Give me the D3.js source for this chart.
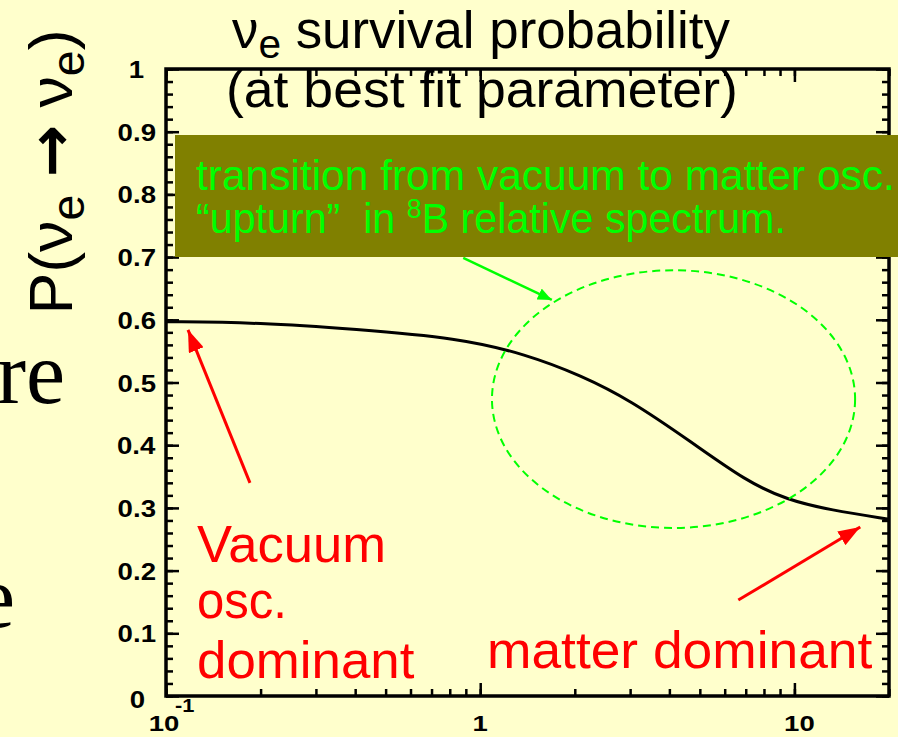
<!DOCTYPE html>
<html>
<head>
<meta charset="utf-8">
<script src="https://cdn.jsdelivr.net/npm/d3@7.9.0/dist/d3.min.js"></script>
<style>
  body { margin: 0; background: #ffffcc; }
  svg { display: block; }
  text { font-family: "Liberation Sans", Arial, sans-serif; }
</style>
</head>
<body>
<svg width="898" height="737"></svg>
<script>
// neutrino energy (MeV) and survival probability
const energy = [0.1, 0.2, 0.4, 0.85, 1.4, 2.1, 3, 4.7, 7, 9.5, 13, 20];
const survival = [0.597, 0.5955, 0.585, 0.571, 0.545, 0.511, 0.472, 0.405, 0.343, 0.3125, 0.2966, 0.282];

const yTickValues = [0, 0.1, 0.2, 0.3, 0.4, 0.5, 0.6, 0.7, 0.8, 0.9, 1];
const yTickLabels = ['0', '0.1', '0.2', '0.3', '0.4', '0.5', '0.6', '0.7', '0.8', '0.9', '1'];
const xTickValues = [0.1, 1, 10];
const xTickLabels = ['10', '1', '10'];

// annotations, in data units
const ellipseE = [1.09, 15.6];
const ellipseP = [0.268, 0.679];
const redArrows = [
  { from: [0.185, 0.34], to: [0.1175, 0.584] },
  { from: [6.63, 0.153], to: [16.2, 0.2695] }
];
const greenArrow = { from: [0.883, 0.6986], to: [1.69, 0.6316] };

const svg = d3.select('svg');
const x = d3.scaleLog().domain([0.1, 20]).range([166, 889]);
const y = d3.scaleLinear().domain([0, 1]).range([696, 69]);

svg.append('rect').attr('width', 898).attr('height', 737).attr('fill', '#ffffcc');

// place a text so that it spans a given width
function fit(sel, tx, ty, w, anchor) {
  const bb = sel.node().getBBox();
  const s = w / bb.width;
  let dx = 0;
  if (anchor === 'end') dx = -w;
  if (anchor === 'middle') dx = -w / 2;
  sel.attr('x', -bb.x).attr('transform', `translate(${tx + dx},${ty}) scale(${s},1)`);
  return sel;
}

// markers
const defs = svg.append('defs');
[['redHead', '#ff0000', 22, 16], ['greenHead', '#00ff00', 14, 12]].forEach(([id, c, len, wid]) => {
  defs.append('marker')
    .attr('id', id)
    .attr('markerUnits', 'userSpaceOnUse')
    .attr('markerWidth', len).attr('markerHeight', wid)
    .attr('viewBox', `0 0 ${len} ${wid}`)
    .attr('refX', len).attr('refY', wid / 2)
    .attr('orient', 'auto')
    .append('path')
    .attr('d', `M0,0L${len},${wid / 2}L0,${wid}Z`)
    .attr('fill', c);
});

// ticks on all four sides, pointing inward
const minorX = x.ticks();
const minorY = y.ticks(50);
function ticks(axis, tr) {
  svg.append('g').attr('transform', tr)
    .call(axis)
    .call(g => g.select('.domain').remove())
    .call(g => g.selectAll('line').attr('stroke', '#000').attr('stroke-width', 2.5));
}
ticks(d3.axisBottom(x).tickValues(minorX).tickSize(-7).tickFormat(''), `translate(0,${y(0)})`);
ticks(d3.axisBottom(x).tickValues(xTickValues).tickSize(-13).tickFormat(''), `translate(0,${y(0)})`);
ticks(d3.axisTop(x).tickValues(minorX).tickSize(-7).tickFormat(''), `translate(0,${y(1)})`);
ticks(d3.axisTop(x).tickValues(xTickValues).tickSize(-13).tickFormat(''), `translate(0,${y(1)})`);
ticks(d3.axisLeft(y).tickValues(minorY).tickSize(-7).tickFormat(''), `translate(${x(0.1)},0)`);
ticks(d3.axisLeft(y).tickValues(yTickValues).tickSize(-13).tickFormat(''), `translate(${x(0.1)},0)`);
ticks(d3.axisRight(y).tickValues(minorY).tickSize(-7).tickFormat(''), `translate(${x(20)},0)`);
ticks(d3.axisRight(y).tickValues(yTickValues).tickSize(-13).tickFormat(''), `translate(${x(20)},0)`);

svg.append('rect')
  .attr('x', x(0.1)).attr('y', y(1))
  .attr('width', x(20) - x(0.1)).attr('height', y(0) - y(1))
  .attr('fill', 'none').attr('stroke', '#000').attr('stroke-width', 3.5);

// tick labels
yTickValues.forEach((v, i) => {
  const t = svg.append('text').attr('font-weight', 'bold').attr('font-size', 24).text(yTickLabels[i]);
  let right = 156, yy = y(v) + 9;
  if (i === 0) { right = 145; yy = y(v) + 12; }
  if (i === yTickValues.length - 1) { right = 144; yy = y(v) + 9; }
  fit(t, right, yy, t.node().getBBox().width * 1.15, 'end');
});
xTickValues.forEach((v, i) => {
  const t = svg.append('text').attr('font-weight', 'bold').attr('font-size', 22).text(xTickLabels[i]);
  const w = t.node().getBBox().width * 1.25;
  fit(t, i === 0 ? x(v) - 2 : (i === 2 ? x(v) + 5 : x(v)), 731, w, 'middle');
});
{
  const t = svg.append('text').attr('font-weight', 'bold').attr('font-size', 19).text('-1');
  fit(t, 175, 712, t.node().getBBox().width * 1.15, 'start');
}

// curve
const pts = energy.map((e, i) => [e, survival[i]]);
svg.append('path')
  .datum(pts)
  .attr('d', d3.line().x(d => x(d[0])).y(d => y(d[1])).curve(d3.curveBasis))
  .attr('fill', 'none').attr('stroke', '#000').attr('stroke-width', 3);

// dashed ellipse
const ex0 = x(ellipseE[0]), ex1 = x(ellipseE[1]);
const ey0 = y(ellipseP[1]), ey1 = y(ellipseP[0]);
svg.append('ellipse')
  .attr('cx', (ex0 + ex1) / 2).attr('cy', (ey0 + ey1) / 2)
  .attr('rx', (ex1 - ex0) / 2).attr('ry', (ey1 - ey0) / 2)
  .attr('fill', 'none').attr('stroke', '#00ff00').attr('stroke-width', 2)
  .attr('stroke-dasharray', '8,5');

// arrows
redArrows.forEach(a => {
  svg.append('line')
    .attr('x1', x(a.from[0])).attr('y1', y(a.from[1]))
    .attr('x2', x(a.to[0])).attr('y2', y(a.to[1]))
    .attr('stroke', '#ff0000').attr('stroke-width', 3)
    .attr('marker-end', 'url(#redHead)');
});
svg.append('line')
  .attr('x1', x(greenArrow.from[0])).attr('y1', y(greenArrow.from[1]))
  .attr('x2', x(greenArrow.to[0])).attr('y2', y(greenArrow.to[1]))
  .attr('stroke', '#00ff00').attr('stroke-width', 2.5)
  .attr('marker-end', 'url(#greenHead)');

// title
{
  const t = svg.append('text').attr('font-size', 52).attr('fill', '#000');
  t.append('tspan').text('ν');
  t.append('tspan').attr('font-size', 40).attr('dy', 10).text('e');
  t.append('tspan').attr('dy', -10).text(' survival probability');
  fit(t, 232, 48, 498, 'start');
  const t2 = svg.append('text').attr('font-size', 52).attr('fill', '#000').text('(at best fit parameter)');
  fit(t2, 226, 107, 512, 'start');
}

// y axis label
{
  const t = svg.append('text').attr('font-size', 62).attr('fill', '#000');
  t.append('tspan').text('P(ν');
  t.append('tspan').attr('font-size', 46).attr('dy', 12).text('e');
  t.append('tspan').attr('dy', -12).text(' ');
  t.append('tspan').style('font-family', '"DejaVu Sans", sans-serif').attr('font-weight', 'bold').text('→');
  t.append('tspan').text(' ν');
  t.append('tspan').attr('font-size', 46).attr('dy', 12).text('e');
  t.append('tspan').attr('dy', -12).text(')');
  const bb = t.node().getBBox();
  const s = 285 / bb.width;
  t.attr('x', -bb.x - bb.width / 2)
    .attr('transform', `translate(72,172) rotate(-90) scale(${s},1)`);
}

// olive box with green note
svg.append('rect')
  .attr('x', 175).attr('y', 135).attr('width', 723).attr('height', 122)
  .attr('fill', '#808000');
{
  const t = svg.append('text').attr('font-size', 43).attr('fill', '#00ff00')
    .text('transition from vacuum to matter osc.');
  fit(t, 196, 190, 699, 'start');
  const t2 = svg.append('text').attr('font-size', 43).attr('fill', '#00ff00');
  t2.append('tspan').text('\u201Cupturn\u201D\u00A0 in ');
  t2.append('tspan').attr('font-size', 28).attr('dy', -15).text('8');
  t2.append('tspan').attr('dy', 15).text('B relative spectrum.');
  fit(t2, 196, 233, 590, 'start');
}

// red notes
[['Vacuum', 562, 189], ['osc.', 618, 90], ['dominant', 678, 218]].forEach(([s, by, w]) => {
  const t = svg.append('text').attr('font-size', 52).attr('fill', '#ff0000').text(s);
  fit(t, 197, by, w, 'start');
});
{
  const t = svg.append('text').attr('font-size', 52).attr('fill', '#ff0000').text('matter dominant');
  fit(t, 487, 668, 386, 'start');
}

// slide text cut at the left edge
svg.append('text').attr('x', 65).attr('y', 403).attr('text-anchor', 'end')
  .style('font-family', '"Liberation Serif", "Times New Roman", serif')
  .attr('font-size', 88).attr('fill', '#000').text('re');
svg.append('text').attr('x', 15).attr('y', 627).attr('text-anchor', 'end')
  .style('font-family', '"Liberation Serif", "Times New Roman", serif')
  .attr('font-size', 88).attr('fill', '#000').text('e');
</script>
</body>
</html>
